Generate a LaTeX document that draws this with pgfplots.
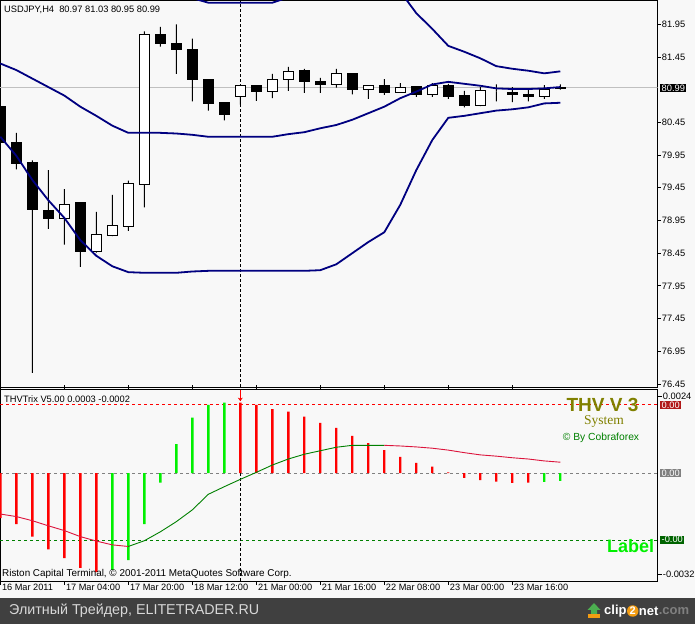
\documentclass[border=0pt]{standalone}
\usepackage{pgfplots}
\pgfplotsset{compat=1.18}
\usepackage{pgfplotstable}
\usepackage{fontspec}
\setmainfont{Liberation Sans}
\newfontfamily\seriffont{Liberation Serif}
\usetikzlibrary{arrows.meta}

\definecolor{chartbg}{HTML}{F8F8F8}
\definecolor{bandblue}{HTML}{000080}
\definecolor{bidgrey}{HTML}{C0C0C0}
\definecolor{mtred}{HTML}{FF0000}
\definecolor{mtlime}{HTML}{00F000}
\definecolor{crimsonline}{HTML}{DC143C}
\definecolor{mtgreen}{HTML}{008000}
\definecolor{olivetxt}{HTML}{808000}
\definecolor{footerbg}{HTML}{404040}
\definecolor{footertxt}{HTML}{D8D8D8}
\definecolor{boxred}{HTML}{B01818}
\definecolor{boxgrey}{HTML}{808080}
\definecolor{boxgreen}{HTML}{006400}
\definecolor{clipor}{HTML}{F39C12}
\definecolor{clipgr}{HTML}{4CAF50}

\pgfplotstableread{
i o h l c
0 80.69 80.82 80.13 80.15
1 80.15 80.29 79.73 79.82
2 79.83 79.87 76.62 79.12
3 79.11 79.72 78.82 78.98
4 78.98 79.43 78.58 79.20
5 79.22 79.22 78.24 78.47
6 78.47 79.08 78.46 78.74
7 78.72 79.34 78.71 78.88
8 78.86 79.56 78.79 79.52
9 79.50 81.84 79.15 81.80
10 81.80 81.91 81.61 81.65
11 81.66 81.95 81.19 81.56
12 81.57 81.73 80.77 81.10
13 81.11 81.11 80.63 80.74
14 80.75 80.75 80.48 80.57
15 80.85 81.01 80.72 81.01
16 81.02 81.02 80.78 80.92
17 80.92 81.19 80.82 81.11
18 81.11 81.30 80.93 81.23
19 81.24 81.27 80.90 81.07
20 81.08 81.13 80.90 81.03
21 81.03 81.27 80.98 81.20
22 81.20 81.20 80.88 80.95
23 80.96 81.01 80.81 81.01
24 81.01 81.11 80.87 80.91
25 80.91 81.05 80.90 80.99
26 81.00 81.00 80.84 80.87
27 80.88 81.05 80.84 81.02
28 81.02 81.04 80.81 80.84
29 80.86 80.93 80.68 80.71
30 80.71 80.99 80.70 80.93
31 80.92 81.03 80.77 80.92
32 80.91 80.99 80.76 80.87
33 80.88 80.97 80.77 80.84
34 80.85 81.02 80.81 80.96
35 80.97 81.03 80.95 80.99
}\candles

\pgfplotstableread{
i mid low up
0 81.35 80.23 82.47
1 81.25 79.94 82.56
2 81.12 79.57 82.67
3 80.99 79.26 82.72
4 80.86 78.99 82.73
5 80.69 78.65 82.73
6 80.55 78.41 82.69
7 80.40 78.25 82.55
8 80.29 78.16 82.42
9 80.29 78.15 82.43
10 80.29 78.15 82.43
11 80.28 78.15 82.41
12 80.26 78.17 82.35
13 80.23 78.18 82.28
14 80.23 78.18 82.28
15 80.23 78.18 82.28
16 80.23 78.18 82.28
17 80.23 78.18 82.28
18 80.27 78.18 82.36
19 80.30 78.18 82.42
20 80.36 78.19 82.53
21 80.41 78.28 82.54
22 80.49 78.45 82.53
23 80.59 78.62 82.56
24 80.69 78.77 82.61
25 80.82 79.19 82.45
26 80.92 79.72 82.12
27 81.03 80.18 81.88
28 81.07 80.52 81.62
29 81.04 80.55 81.53
30 81.01 80.59 81.43
31 80.97 80.63 81.31
32 80.96 80.65 81.27
33 80.96 80.68 81.24
34 80.97 80.74 81.20
35 80.99 80.75 81.23
}\bands

\pgfplotstableread{
i v
0 -0.00142
1 -0.00161
2 -0.00200
3 -0.00240
4 -0.00268
5 -0.00298
6 -0.00312
15 0.00221
16 0.00214
17 0.00201
18 0.00193
19 0.00177
20 0.00158
21 0.00142
22 0.00117
23 0.00094
24 0.00072
25 0.00051
26 0.00032
27 0.00020
28 0.00002
29 -0.00015
30 -0.00022
31 -0.00027
32 -0.00031
33 -0.00030
}\histred

\pgfplotstableread{
i v
7 -0.00305
8 -0.00274
9 -0.00161
10 -0.00030
11 0.00091
12 0.00174
13 0.00214
14 0.00221
34 -0.00028
35 -0.00025
}\histgreen

\pgfplotstableread{
i s
0 -0.00129
1 -0.00137
2 -0.00150
3 -0.00166
4 -0.00181
5 -0.00200
6 -0.00214
7 -0.00226
8 -0.00231
}\sigA

\pgfplotstableread{
i s
8 -0.00231
9 -0.00213
10 -0.00185
11 -0.00153
12 -0.00116
13 -0.00067
14 -0.00043
15 -0.00020
16 0.00002
17 0.00025
18 0.00044
19 0.00059
20 0.00070
21 0.00081
22 0.00087
23 0.00087
24 0.00087
}\sigB

\pgfplotstableread{
i s
24 0.00087
25 0.00085
26 0.00082
27 0.00078
28 0.00072
29 0.00064
30 0.00057
31 0.00053
32 0.00048
33 0.00044
34 0.00038
35 0.00034
}\sigC

\newcommand{\mtfont}{\fontsize{9.3bp}{11bp}\selectfont}
\newcommand{\datefont}{\fontsize{9.2bp}{10bp}\selectfont}

\pgfplotsset{
  mainpanel/.style={
    scale only axis, width=657.7bp, height=386.5bp,
    at={(0bp,237bp)}, anchor=south west,
    xmin=-0.02, xmax=41.09, ymin=76.404, ymax=82.314,
  },
  indpanel/.style={
    scale only axis, width=657.7bp, height=191.5bp,
    at={(0bp,43bp)}, anchor=south west,
    xmin=-0.02, xmax=41.09, ymin=-0.003396, ymax=0.002626,
  },
}

\begin{document}
\begin{tikzpicture}[x=1bp,y=1bp]
\useasboundingbox (0,0) rectangle (695,624);
\fill[chartbg] (0,0) rectangle (695,624);

% ---------- main panel: frame, ticks, bid line, marker line
\begin{axis}[mainpanel,
  axis background/.style={fill=chartbg},
  axis line style={black, line width=0.8bp},
  xtick=\empty,
  ytick={76.45,76.95,77.45,77.95,78.45,78.95,79.45,79.95,80.45,81.45,81.95},
  yticklabels={76.45,76.95,77.45,77.95,78.45,78.95,79.45,79.95,80.45,81.45,81.95},
  yticklabel pos=right,
  ytick align=outside,
  major tick length=3bp,
  tick style={black, line width=0.8bp},
  yticklabel style={font=\mtfont, anchor=west, inner sep=0pt, xshift=1bp},
]
\addplot[bidgrey, line width=1bp] coordinates {(-0.02,80.99) (41.09,80.99)};
\addplot[black, line width=0.8bp, dash pattern=on 3bp off 2bp] coordinates {(15,76.404) (15,82.314)};
\end{axis}

% ---------- candles
\begin{axis}[mainpanel, hide axis, ybar stacked, bar shift=0pt]
\addplot[draw=none, fill=none, bar width=1bp] table[x=i, y=l] \candles;
\addplot[fill=black, draw=none, bar width=1bp] table[x=i, y expr={min(\thisrow{o},\thisrow{c})-\thisrow{l}}] \candles;
\addplot[fill=black, draw=black, line width=1bp, bar width=10bp] table[x=i, y expr={max(\thisrow{o}-\thisrow{c},0)}] \candles;
\addplot[fill=white, draw=black, line width=1bp, bar width=10bp] table[x=i, y expr={max(\thisrow{c}-\thisrow{o},0)}] \candles;
\addplot[fill=black, draw=none, bar width=1bp] table[x=i, y expr={\thisrow{h}-max(\thisrow{o},\thisrow{c})}] \candles;
\end{axis}

% ---------- bands
\begin{axis}[mainpanel, hide axis]
\addplot[bandblue, line width=1.8bp] table[x=i, y=up] \bands;
\addplot[bandblue, line width=1.8bp] table[x=i, y=mid] \bands;
\addplot[bandblue, line width=1.8bp] table[x=i, y=low] \bands;
\end{axis}

% ---------- indicator panel
\begin{axis}[indpanel,
  axis background/.style={fill=chartbg},
  axis line style={black, line width=0.8bp},
  xtick={0,4,8,12,16,20,24,28,32},
  xticklabels={16 Mar 2011, 17 Mar 04:00, 17 Mar 20:00, 18 Mar 12:00, 21 Mar 00:00, 21 Mar 16:00, 22 Mar 08:00, 23 Mar 00:00, 23 Mar 16:00},
  xtick align=outside,
  xticklabel style={font=\datefont, anchor=north west, inner sep=0pt, xshift=1.5bp, yshift=1bp},
  scaled y ticks=false,
  ytick={-0.0032,0.0024},
  yticklabels={-0.0032,0.0024},
  yticklabel pos=right,
  ytick align=outside,
  major tick length=4bp,
  tick style={black, line width=0.8bp},
  yticklabel style={font=\mtfont, anchor=west, inner sep=0pt, xshift=1bp},
]
\addplot[mtred, line width=1bp, dash pattern=on 3bp off 3bp] coordinates {(-0.02,0.00214) (41.09,0.00214)};
\addplot[boxgrey, line width=1bp, dash pattern=on 3bp off 3bp] coordinates {(-0.02,0) (41.09,0)};
\addplot[mtgreen, line width=1bp, dash pattern=on 3bp off 3bp] coordinates {(-0.02,-0.00211) (41.09,-0.00211)};
\addplot[black, line width=0.8bp, dash pattern=on 3bp off 2bp] coordinates {(15,-0.003396) (15,0.002626)};
\addplot[ybar, bar width=2.4bp, bar shift=0pt, fill=mtred, draw=none] table[x=i, y=v] \histred;
\addplot[ybar, bar width=2.4bp, bar shift=0pt, fill=mtlime, draw=none] table[x=i, y=v] \histgreen;
\addplot[crimsonline, line width=0.9bp] table[x=i, y=s] \sigA;
\addplot[mtgreen, line width=0.9bp] table[x=i, y=s] \sigB;
\addplot[crimsonline, line width=0.9bp] table[x=i, y=s] \sigC;
\addplot[mtred, line width=1.2bp, -{Stealth[length=3.5bp,width=5bp]}] coordinates {(15,0.00262) (15,0.00226)};
\end{axis}

% ---------- texts
\node[anchor=west, inner sep=0, font=\mtfont] at (4,614) {USDJPY,H4\ \ 80.97 81.03 80.95 80.99};
\node[anchor=west, inner sep=0, font=\mtfont] at (4,225) {THVTrix V5.00 0.0003 -0.0002};
\node[anchor=west, inner sep=0, font=\fontsize{9.9bp}{11bp}\selectfont] at (2,50.5) {Riston Capital Terminal, © 2001-2011 MetaQuotes Software Corp.};

\node[inner sep=0, text=olivetxt, font=\fontsize{19bp}{19bp}\selectfont\bfseries] at (602.5,219) {THV V 3};
\node[inner sep=0, text=olivetxt, font=\fontsize{13.5bp}{14bp}\selectfont\seriffont] at (604,202.3) {System};
\node[inner sep=0, text=mtgreen, font=\fontsize{10.3bp}{11bp}\selectfont] at (601,186.3) {© By Cobraforex};
\node[inner sep=0, text=mtlime, font=\fontsize{18bp}{18bp}\selectfont\bfseries] at (630.5,78.3) {Label};

% right side boxes
\node[anchor=west, fill=black, text=white, font=\mtfont, inner xsep=1.5bp, inner ysep=0.8bp] at (660,536) {80.99};
\node[anchor=west, fill=boxred, text=white, font=\mtfont, inner xsep=1.5bp, inner ysep=0.8bp] at (660,219) {0.00};
\node[anchor=west, fill=boxgrey, text=white, font=\mtfont, inner xsep=1.5bp, inner ysep=0.8bp] at (660,151) {0.00};
\node[anchor=west, fill=boxgreen, text=white, font=\mtfont, inner xsep=1.5bp, inner ysep=0.8bp] at (660,84.3) {-0.00};

% footer
\fill[footerbg] (0,0) rectangle (695,26);
\node[anchor=west, inner sep=0, text=footertxt, font=\fontsize{14.3bp}{14bp}\selectfont] at (9,13) {Элитный Трейдер, ELITETRADER.RU};
% clip2net logo
\fill[clipor] (588,6) rectangle (600,10);
\fill[clipgr] (591,10) -- (597,10) -- (597,14) -- (600.5,14) -- (594,21) -- (587.5,14) -- (591,14) -- cycle;
\node[anchor=west, inner sep=0, text=white, font=\fontsize{13bp}{13bp}\selectfont\bfseries] (c1) at (604,13) {clip};
\node[anchor=west, circle, fill=clipor, inner sep=0.6bp, text=white, font=\fontsize{11bp}{11bp}\selectfont\bfseries] (c2) at (c1.east) {2};
\node[anchor=west, inner sep=0, text=white, font=\fontsize{13bp}{13bp}\selectfont\bfseries] (c3) at (c2.east) {net};
\node[anchor=west, inner sep=0, text=gray, font=\fontsize{13bp}{13bp}\selectfont\bfseries] at (c3.east) {.com};
\end{tikzpicture}
\end{document}
